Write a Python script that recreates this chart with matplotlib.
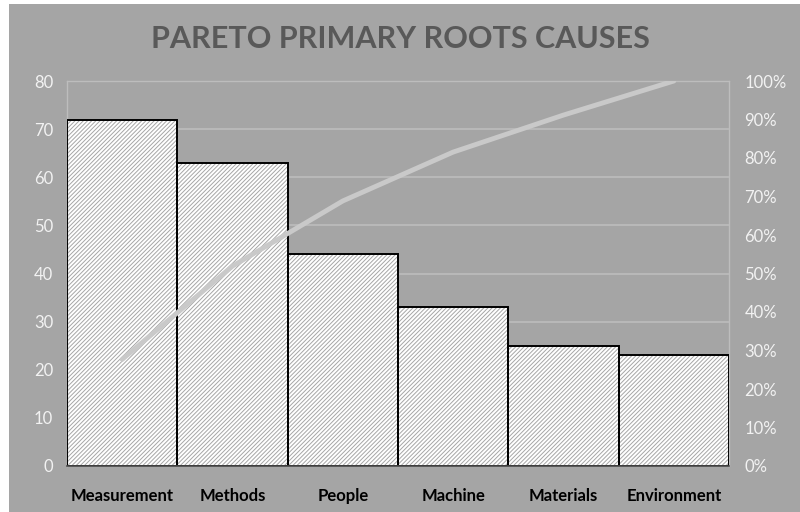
import matplotlib
matplotlib.use("Agg")
import matplotlib.pyplot as plt
from matplotlib.patches import Rectangle
import numpy as np

categories = ["Measurement", "Methods", "People", "Machine", "Materials", "Environment"]
counts = [72, 63, 44, 33, 25, 23]
left_ticks = [0, 10, 20, 30, 40, 50, 60, 70, 80]
right_ticks = [0, 10, 20, 30, 40, 50, 60, 70, 80, 90, 100]

cumulative = np.cumsum(counts) / np.sum(counts)

BG = "#a5a5a5"
GRID = "#bdbdbd"
TICK = "#f2f2f2"

plt.rcParams["font.family"] = ["Lato", "DejaVu Sans"]
plt.rcParams["hatch.linewidth"] = 0.7

fig = plt.figure(figsize=(8, 5.12), dpi=100, facecolor="white")
fig.patches.append(Rectangle((9 / 800, 0), 1 - 9 / 800, 1 - 4 / 512,
                             transform=fig.transFigure, facecolor=BG,
                             edgecolor="none", zorder=-10))

ax = fig.add_axes([67 / 800, 46 / 512, 662 / 800, 385 / 512])
ax.set_facecolor(BG)
x = np.arange(len(categories))

# hatched fill, then black outlines on top
ax.bar(x, counts, width=1.0, color="white", edgecolor="#a6a6a6", hatch="////////",
       linewidth=0, zorder=2)
ax.bar(x, counts, width=1.0, color="none", edgecolor="black", linewidth=1.4, zorder=3)

ax.set_xlim(-0.5, len(categories) - 0.5)
ax.set_ylim(0, 80)
ax.set_yticks(left_ticks)
ax.set_yticklabels([str(t) for t in left_ticks])
ax.yaxis.grid(True, color=GRID, linewidth=1.2, zorder=0)
ax.set_axisbelow(True)
ax.set_xticks(x)
ax.set_xticklabels(categories, fontsize=12, fontweight="bold", color="black")
ax.tick_params(axis="x", length=0, pad=16)
ax.tick_params(axis="y", length=0, pad=10, labelsize=12, labelcolor=TICK)
for side in ["top", "left", "right"]:
    ax.spines[side].set_color(GRID)
    ax.spines[side].set_linewidth(1.0)
ax.spines["bottom"].set_color("#4a4a4a")
ax.spines["bottom"].set_linewidth(1.2)
ax.spines["bottom"].set_zorder(4)

ax2 = ax.twinx()
ax2.plot(x, cumulative, color="#c9c9c9", linewidth=3.5, solid_capstyle="round", zorder=5)
ax2.set_ylim(0, 1)
ax2.set_yticks([t / 100 for t in right_ticks])
ax2.set_yticklabels([f"{t}%" for t in right_ticks])
ax2.tick_params(axis="y", length=0, pad=11, labelsize=12, labelcolor=TICK)
for side in ax2.spines:
    ax2.spines[side].set_visible(False)

fig.text(0.5, 1 - 39 / 512, "PARETO PRIMARY ROOTS CAUSES", ha="center", va="center",
         fontsize=22, fontweight="bold", color="#595959")

fig.savefig("out.png", dpi=100, facecolor=fig.get_facecolor())
